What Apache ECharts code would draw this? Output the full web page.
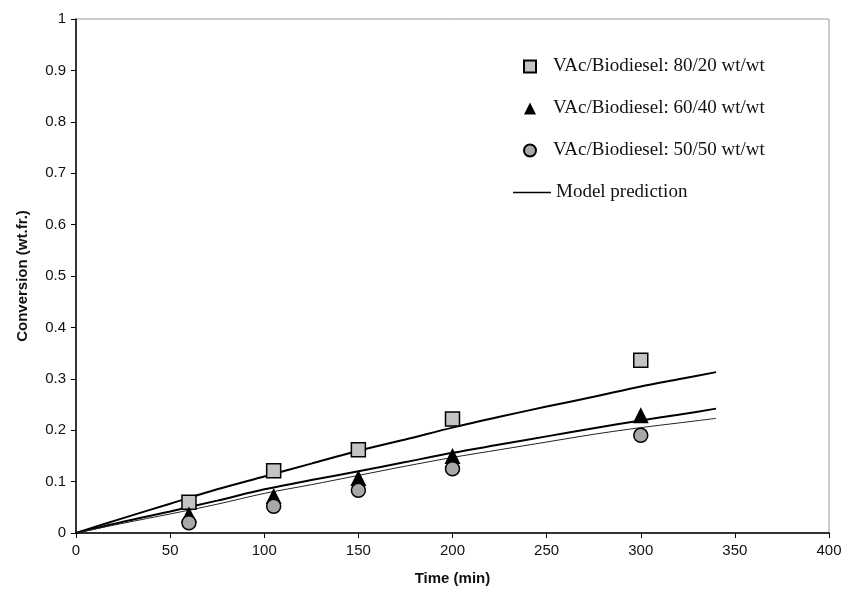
<!DOCTYPE html>
<html>
<head>
<meta charset="utf-8">
<script src="https://cdn.jsdelivr.net/npm/echarts@6/dist/echarts.min.js"></script>
<style>
html,body{margin:0;padding:0;background:#fff;}
#chart{width:848px;height:602px;}
</style>
</head>
<body>
<div id="chart"></div>
<script>
// Tick labels
const xTicks = [0, 50, 100, 150, 200, 250, 300, 350, 400];
const yTicks = [0, 0.1, 0.2, 0.3, 0.4, 0.5, 0.6, 0.7, 0.8, 0.9, 1];

// Experimental data (time in min, conversion in wt.fr.)
const expTime = [60, 105, 150, 200, 300];
const conv8020 = [0.060, 0.121, 0.162, 0.222, 0.336];
const conv6040 = [0.036, 0.072, 0.107, 0.150, 0.229];
const conv5050 = [0.020, 0.052, 0.083, 0.125, 0.190];

// Model prediction curves
const modelTime = [0, 25, 50, 75, 100, 125, 150, 175, 200, 225, 250, 275, 300, 320, 340];
const model8020 = [0, 0.029, 0.057, 0.085, 0.110, 0.135, 0.160, 0.182, 0.205, 0.226, 0.246, 0.265, 0.285, 0.299, 0.313];
const model6040 = [0, 0.022, 0.042, 0.063, 0.085, 0.103, 0.120, 0.138, 0.156, 0.172, 0.188, 0.204, 0.219, 0.230, 0.242];
const model5050 = [0, 0.019, 0.037, 0.056, 0.077, 0.094, 0.112, 0.130, 0.147, 0.162, 0.177, 0.192, 0.205, 0.214, 0.223];

const seriesNames = ['VAc/Biodiesel: 80/20 wt/wt', 'VAc/Biodiesel: 60/40 wt/wt', 'VAc/Biodiesel: 50/50 wt/wt', 'Model prediction'];

const pairs = (xs, ys) => xs.map((x, i) => [x, ys[i]]);

const chart = echarts.init(document.getElementById('chart'));
const axisFont = {fontFamily: 'Liberation Sans, Arial, sans-serif', fontSize: 15, color: '#111'};
const legendFont = {fontFamily: 'Liberation Serif, Times New Roman, serif', fontSize: 19, color: '#111'};

chart.setOption({
  animation: false,
  backgroundColor: '#fff',
  grid: {left: 76, right: 19, top: 19, bottom: 69, show: true, borderColor: '#999', borderWidth: 1},
  legend: [
    {
      orient: 'vertical',
      left: 518,
      top: 52,
      itemWidth: 12,
      itemHeight: 12,
      itemGap: 23,
      symbolKeepAspect: true,
      data: [
        {name: seriesNames[0], icon: 'rect'},
        {name: seriesNames[1], icon: 'triangle'},
        {name: seriesNames[2], icon: 'circle'}
      ],
      textStyle: Object.assign({}, legendFont, {padding: [0, 0, 0, 12]})
    },
    {
      orient: 'vertical',
      left: 508,
      top: 178,
      itemWidth: 38,
      itemHeight: 1.5,
      data: [{name: seriesNames[3], icon: 'rect', itemStyle: {color: '#000', borderWidth: 0}}],
      textStyle: Object.assign({}, legendFont, {padding: [0, 0, 0, 0]})
    }
  ],
  xAxis: {
    type: 'value',
    min: xTicks[0], max: xTicks[xTicks.length - 1], interval: xTicks[1] - xTicks[0],
    name: 'Time (min)', nameLocation: 'middle', nameGap: 38,
    nameTextStyle: Object.assign({}, axisFont, {fontWeight: 'bold'}),
    axisLine: {onZero: false, lineStyle: {color: '#000', width: 1.5}},
    axisTick: {show: true, length: 5, lineStyle: {color: '#000'}},
    axisLabel: Object.assign({}, axisFont, {margin: 10}),
    splitLine: {show: false}
  },
  yAxis: {
    type: 'value',
    min: yTicks[0], max: yTicks[yTicks.length - 1], interval: 0.1,
    name: 'Conversion (wt.fr.)', nameLocation: 'middle', nameGap: 46,
    nameTextStyle: Object.assign({}, axisFont, {fontWeight: 'bold'}),
    axisLine: {show: true, onZero: false, lineStyle: {color: '#000', width: 1.5}},
    axisTick: {show: true, length: 5, lineStyle: {color: '#000'}},
    axisLabel: Object.assign({}, axisFont, {margin: 10}),
    splitLine: {show: false}
  },
  series: [
    {
      name: seriesNames[0], type: 'scatter', data: pairs(expTime, conv8020),
      symbol: 'rect', symbolSize: 14, z: 5,
      itemStyle: {color: '#c4c4c4', borderColor: '#000', borderWidth: 1.5, opacity: 1}
    },
    {
      name: seriesNames[1], type: 'scatter', data: pairs(expTime, conv6040),
      symbol: 'triangle', symbolSize: 16, z: 5,
      itemStyle: {color: '#000', borderColor: '#000', borderWidth: 0, opacity: 1}
    },
    {
      name: seriesNames[2], type: 'scatter', data: pairs(expTime, conv5050),
      symbol: 'circle', symbolSize: 14, z: 5,
      itemStyle: {color: '#a8a8a8', borderColor: '#000', borderWidth: 1.5, opacity: 1}
    },
    {
      name: seriesNames[3], type: 'line', data: pairs(modelTime, model8020),
      symbol: 'none', smooth: 0.3, z: 3,
      lineStyle: {color: '#000', width: 2}, itemStyle: {color: '#000'}
    },
    {
      name: seriesNames[3], type: 'line', data: pairs(modelTime, model6040),
      symbol: 'none', smooth: 0.3, z: 3,
      lineStyle: {color: '#000', width: 2}, itemStyle: {color: '#000'}
    },
    {
      name: seriesNames[3], type: 'line', data: pairs(modelTime, model5050),
      symbol: 'none', smooth: 0.3, z: 3,
      lineStyle: {color: '#222', width: 1}, itemStyle: {color: '#000'}
    }
  ]
});
</script>
</body>
</html>
